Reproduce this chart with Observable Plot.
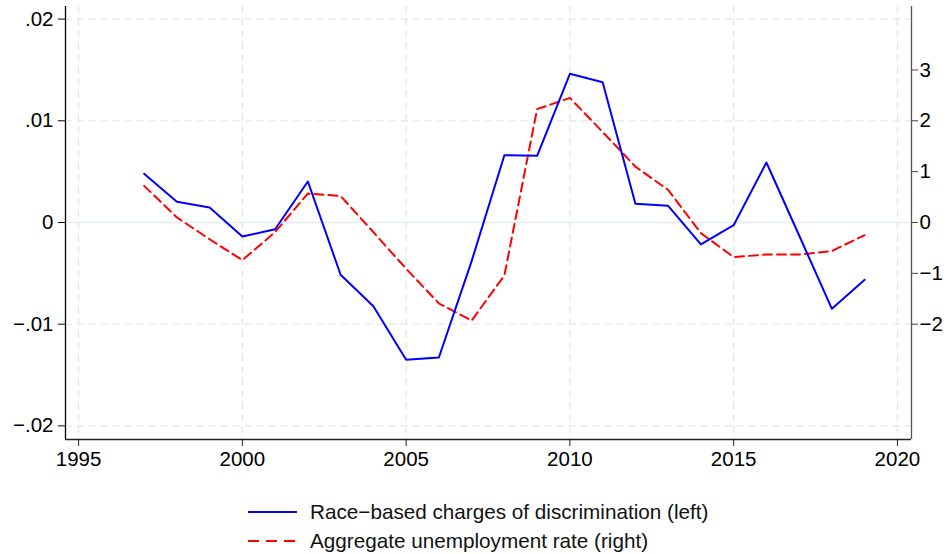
<!DOCTYPE html>
<html>
<head>
<meta charset="utf-8">
<script src="https://cdn.jsdelivr.net/npm/d3@7"></script>
<script src="https://cdn.jsdelivr.net/npm/@observablehq/plot@0.6"></script>
<style>
  html, body { margin: 0; padding: 0; background: #fff; }
  #chart { width: 948px; }
  svg { display: block; }
</style>
</head>
<body>
<div id="chart"></div>
<script>
// ---- data ----
const years = [1997, 1998, 1999, 2000, 2001, 2002, 2003, 2004, 2005, 2006, 2007, 2008,
               2009, 2010, 2011, 2012, 2013, 2014, 2015, 2016, 2017, 2018, 2019];
const raceCharges = [0.00479, 0.00204, 0.00147, -0.00138, -0.00066, 0.00403, -0.00514, -0.00823,
                     -0.0135, -0.01328, -0.0038, 0.00662, 0.00656, 0.01462, 0.0138, 0.00184,
                     0.00164, -0.00216, -0.00027, 0.0059, -0.00128, -0.00849, -0.00564];
const unemployment = [0.72, 0.10, -0.33, -0.74, -0.19, 0.57, 0.52, -0.19, -0.91, -1.59, -1.93,
                      -1.04, 2.23, 2.45, 1.78, 1.10, 0.64, -0.21, -0.68, -0.63, -0.63, -0.56, -0.25];

const xTicks = [1995, 2000, 2005, 2010, 2015, 2020];
const leftTicks = [0.02, 0.01, 0, -0.01, -0.02];
const leftTickLabels = [".02", ".01", "0", "\u2212.01", "\u2212.02"];
const rightTicks = [3, 2, 1, 0, -1, -2];
const rightTickLabels = ["3", "2", "1", "0", "\u22121", "\u22122"];
const rightPerLeft = 200; // right-axis units per left-axis unit

const seriesNames = ["Race\u2212based charges of discrimination (left)", "Aggregate unemployment rate (right)"];

// ---- build table ----
const blueData = years.map((year, i) => ({year, value: raceCharges[i]}));
const redData = years.map((year, i) => ({year, value: unemployment[i] / rightPerLeft}));

const xDomain = [1994.6, 2020.43];
const yDomain = [-0.02134, 0.02124];
const font = "'Liberation Sans', Arial, Helvetica, sans-serif";

const leftLabel = d => leftTickLabels[leftTicks.findIndex(t => Math.abs(t - d) < 1e-12)];
const rightLabel = d => rightTickLabels[rightTicks.findIndex(t => Math.abs(t / rightPerLeft - d) < 1e-12)];

const plot = Plot.plot({
  width: 948,
  height: 470,
  marginLeft: 65,
  marginRight: 37,
  marginTop: 6,
  marginBottom: 31,
  style: {fontFamily: font, fontSize: "20px", color: "#000", background: "#fff"},
  x: {domain: xDomain, label: null},
  y: {domain: yDomain, label: null},
  marks: [
    Plot.gridX(xTicks, {stroke: "#e6e6e6", strokeOpacity: 1, strokeWidth: 1.3, strokeDasharray: "7,5"}),
    Plot.gridY(leftTicks.filter(d => d !== 0), {stroke: "#e6e6e6", strokeOpacity: 1, strokeWidth: 1.3, strokeDasharray: "7,5"}),
    Plot.ruleY([0], {stroke: "#e4ebf1", strokeWidth: 1.5}),
    Plot.line(redData, {x: "year", y: "value", stroke: "#ff0000", strokeWidth: 2, strokeDasharray: "9,5"}),
    Plot.line(blueData, {x: "year", y: "value", stroke: "#0000ff", strokeWidth: 2}),
    Plot.ruleX([xDomain[0]], {stroke: "#000", strokeWidth: 1.3}),
    Plot.ruleX([xDomain[1]], {stroke: "#555", strokeWidth: 1.3}),
    Plot.ruleY([yDomain[0]], {stroke: "#222", strokeWidth: 1.3}),
    Plot.axisY(leftTicks, {anchor: "left", tickSize: 7, tickPadding: 5, tickFormat: leftLabel, fontSize: 20.5, label: null, stroke: "#000"}),
    Plot.axisY(rightTicks.map(t => t / rightPerLeft), {anchor: "right", tickSize: 6, tickPadding: 2, tickFormat: rightLabel, fontSize: 20.5, label: null, stroke: "#444"}),
    Plot.axisX(xTicks, {anchor: "bottom", tickSize: 7, tickPadding: 5, tickFormat: d => String(d), fontSize: 20.5, label: null, stroke: "#222"})
  ]
});
document.getElementById("chart").appendChild(plot);

// ---- legend below the plot ----
const legend = d3.select("#chart").append("svg")
  .attr("width", 948).attr("height", 84)
  .style("font-family", font);
const legendStyles = [
  {stroke: "#0000ff", dash: null},
  {stroke: "#ff0000", dash: "11,7"}
];
seriesNames.forEach((name, i) => {
  const cy = 42 + i * 29;
  legend.append("line")
    .attr("x1", 248).attr("x2", 297).attr("y1", cy).attr("y2", cy)
    .attr("stroke", legendStyles[i].stroke).attr("stroke-width", 2)
    .attr("stroke-dasharray", legendStyles[i].dash);
  legend.append("text")
    .attr("x", 310).attr("y", cy + 7)
    .attr("font-size", 20.7).attr("fill", "#111")
    .text(name);
});
</script>
</body>
</html>
